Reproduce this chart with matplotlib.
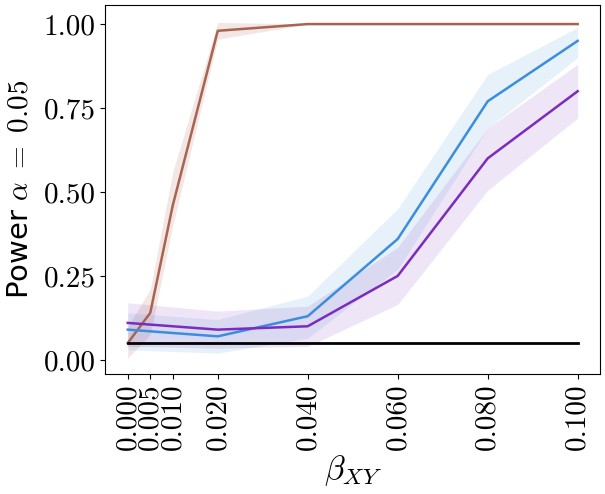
import matplotlib
matplotlib.use("Agg")
import matplotlib.pyplot as plt

plt.rcParams["font.family"] = "serif"
plt.rcParams["font.serif"] = ["cmr10"]
plt.rcParams["mathtext.fontset"] = "cm"
plt.rcParams["axes.formatter.use_mathtext"] = True

beta = [0.000, 0.005, 0.010, 0.020, 0.040, 0.060, 0.080, 0.100]

# brown series
brown_x = [0.000, 0.005, 0.010, 0.020, 0.040, 0.060, 0.080, 0.100]
brown = [0.05, 0.14, 0.46, 0.98, 1.00, 1.00, 1.00, 1.00]
brown_lo = [0.005, 0.075, 0.40, 0.955, 1.00, 1.00, 1.00, 1.00]
brown_hi = [0.10, 0.21, 0.56, 1.005, 1.00, 1.00, 1.00, 1.00]

# blue series
blue_x = [0.000, 0.020, 0.040, 0.060, 0.080, 0.100]
blue = [0.09, 0.07, 0.13, 0.36, 0.77, 0.95]
blue_lo = [0.03, 0.02, 0.065, 0.27, 0.69, 0.90]
blue_hi = [0.14, 0.12, 0.19, 0.45, 0.85, 0.99]

# purple series
purple_x = [0.000, 0.020, 0.040, 0.060, 0.080, 0.100]
purple = [0.11, 0.09, 0.10, 0.25, 0.60, 0.80]
purple_lo = [0.04, 0.035, 0.04, 0.165, 0.505, 0.72]
purple_hi = [0.17, 0.145, 0.16, 0.335, 0.69, 0.88]

alpha_level = 0.05

fig, ax = plt.subplots(figsize=(6.05, 4.94), dpi=100)
fig.subplots_adjust(left=0.174, right=0.992, top=0.99, bottom=0.243)

ax.fill_between(brown_x, brown_lo, brown_hi, color="#a86450", alpha=0.15, linewidth=0)
ax.plot(brown_x, brown, color="#a86450", linewidth=1.8)

ax.fill_between(blue_x, blue_lo, blue_hi, color="#3b8ede", alpha=0.12, linewidth=0)
ax.plot(blue_x, blue, color="#3b8ede", linewidth=1.8)

ax.fill_between(purple_x, purple_lo, purple_hi, color="#7b2cbf", alpha=0.12, linewidth=0)
ax.plot(purple_x, purple, color="#7b2cbf", linewidth=1.8)

ax.plot([beta[0], beta[-1]], [alpha_level, alpha_level], color="black", linewidth=2)

ax.set_xticks(beta)
ax.set_xticklabels(["%.3f" % b for b in beta], rotation=90)
ax.set_yticks([0.0, 0.25, 0.5, 0.75, 1.0])
ax.set_yticklabels(["0.00", "0.25", "0.50", "0.75", "1.00"])
ax.tick_params(labelsize=21)
ax.set_xlim(-0.005, 0.105)
ax.set_ylim(-0.042, 1.057)

ax.set_xlabel(r"$\beta_{XY}$", fontsize=24, labelpad=2)
ax.set_ylabel(r"Power $\alpha\ =\ 0.05$", fontsize=21, family="DejaVu Sans", labelpad=7)

plt.savefig("out.png", dpi=100)
